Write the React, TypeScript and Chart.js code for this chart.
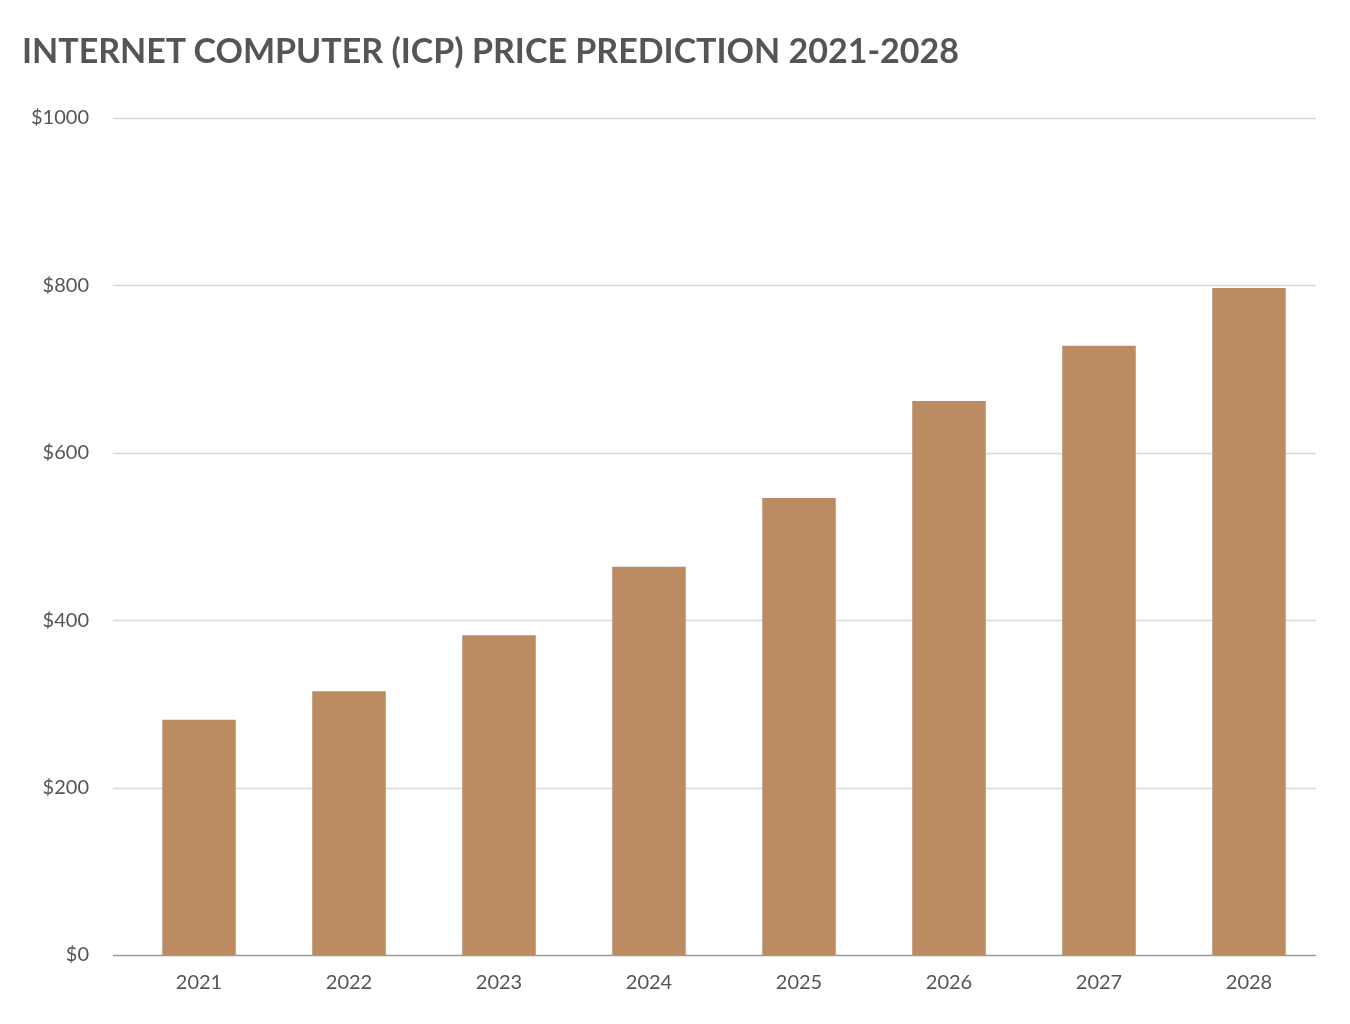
import React, { useEffect, useRef } from "react";
import { Chart, registerables } from "chart.js";

Chart.register(...registerables);

const TITLE = "INTERNET COMPUTER (ICP) PRICE PREDICTION 2021-2028";
const years = ["2021", "2022", "2023", "2024", "2025", "2026", "2027", "2028"];
const prices = [281, 315, 382, 464, 546, 662, 728, 797];
const yMax = 1000;
const yStep = 200;

const FONT = "Lato, 'Open Sans', sans-serif";
const TEXT = "#555555";
const BAR = "#BB8B61";

const gridPlugin = {
  id: "customGrid",
  beforeDatasetsDraw(chart: any) {
    const { ctx } = chart;
    const y = chart.scales.y;
    ctx.save();
    y.ticks.forEach((t: any) => {
      const py = Math.round(y.getPixelForValue(t.value)) + 0.5;
      ctx.beginPath();
      ctx.strokeStyle = t.value === 0 ? "#9a9a9a" : "#d9d9d9";
      ctx.lineWidth = 1.5;
      ctx.moveTo(113, py);
      ctx.lineTo(1316, py);
      ctx.stroke();
    });
    ctx.restore();
  },
};

export default function App() {
  const ref = useRef<HTMLCanvasElement | null>(null);
  useEffect(() => {
    if (!ref.current) return;
    const chart = new Chart(ref.current, {
      type: "bar",
      data: {
        labels: years,
        datasets: [
          {
            data: prices,
            backgroundColor: BAR,
            barPercentage: 0.49,
            categoryPercentage: 1,
          },
        ],
      },
      options: {
        animation: false,
        responsive: false,
        maintainAspectRatio: false,
        layout: { padding: { top: 118, right: 26, bottom: 0, left: 0 } },
        plugins: {
          legend: { display: false },
          tooltip: { enabled: false },
          title: { display: false },
        },
        scales: {
          x: {
            grid: { display: false, drawTicks: false },
            border: { display: false },
            ticks: {
              color: TEXT,
              font: { family: FONT, size: 20 },
              padding: 16,
            },
            afterFit(scale: any) {
              scale.height = 69;
            },
          },
          y: {
            min: 0,
            max: yMax,
            grid: { display: false, drawTicks: false },
            border: { display: false },
            ticks: {
              stepSize: yStep,
              color: TEXT,
              font: { family: FONT, size: 20 },
              padding: 35,
              callback: (v: any) => "$" + v,
            },
            afterFit(scale: any) {
              scale.width = 124;
            },
          },
        },
      },
      plugins: [gridPlugin],
    });
    return () => chart.destroy();
  }, []);

  return (
    <div
      style={{
        position: "absolute",
        left: 0,
        top: 0,
        width: 1350,
        height: 1024,
        background: "#ffffff",
      }}
    >
      <div
        style={{
          position: "absolute",
          left: 22,
          top: 29,
          fontFamily: FONT,
          fontWeight: 700,
          fontSize: 34,
          color: TEXT,
          whiteSpace: "nowrap",
          letterSpacing: 0,
        }}
      >
        {TITLE}
      </div>
      <canvas ref={ref} width={1350} height={1024} style={{ display: "block" }} />
    </div>
  );
}
